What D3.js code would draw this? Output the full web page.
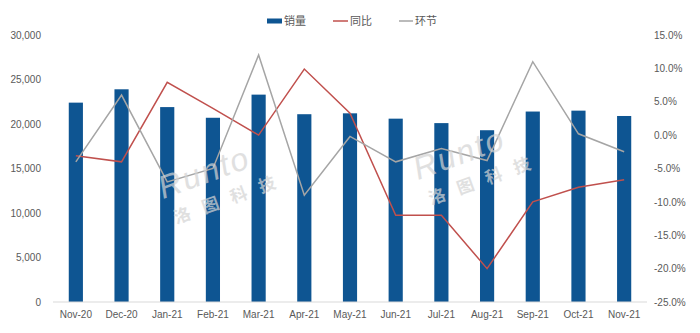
<!DOCTYPE html>
<html>
<head>
<meta charset="utf-8">
<script src="https://cdn.jsdelivr.net/npm/d3@7"></script>
<style>
  body { margin: 0; background: #fff; }
  svg text { font-family: "Liberation Sans", "Noto Sans CJK SC", sans-serif; }
</style>
</head>
<body>
<div id="chart"></div>
<script>
// data
const months = ["Nov-20", "Dec-20", "Jan-21", "Feb-21", "Mar-21", "Apr-21", "May-21",
                "Jun-21", "Jul-21", "Aug-21", "Sep-21", "Oct-21", "Nov-21"];
const sales = [22400, 23900, 21900, 20700, 23300, 21100, 21200, 20600, 20100, 19300, 21400, 21500, 20900];
const yoy = [-3.1, -4.0, 7.9, 4.0, 0.0, 9.9, 3.3, -12.0, -12.0, -20.0, -10.0, -7.8, -6.7];
const mom = [-4.0, 6.0, -7.0, -5.0, 12.0, -9.0, -0.2, -4.0, -2.0, -3.8, 11.0, 0.2, -2.5];
const leftTicks = [0, 5000, 10000, 15000, 20000, 25000, 30000];
const rightTicks = [-25, -20, -15, -10, -5, 0, 5, 10, 15];
const seriesNames = ["销量", "同比", "环节"];

const width = 700, height = 333;
const margin = {top: 35, right: 53, bottom: 31, left: 53};

const svg = d3.select("#chart")
  .append("svg")
    .attr("width", width)
    .attr("height", height);

const xScale = d3.scaleBand()
  .domain(months)
  .range([margin.left, width - margin.right])
  .padding(0);

const yLeft = d3.scaleLinear()
  .domain([0, 30000])
  .range([height - margin.bottom, margin.top]);

const yRight = d3.scaleLinear()
  .domain([-25, 15])
  .range([height - margin.bottom, margin.top]);

const textColor = "#595959";
const barColor = "#0E5592";
const redColor = "#C0504D";
const grayColor = "#A5A5A5";

// bars
const barW = xScale.bandwidth() * 0.31;
svg.append("g")
  .selectAll("rect")
  .data(sales)
  .join("rect")
    .attr("x", (d, i) => xScale(months[i]) + xScale.bandwidth() / 2 - barW / 2)
    .attr("y", d => yLeft(d))
    .attr("width", barW)
    .attr("height", d => yLeft(0) - yLeft(d))
    .attr("fill", barColor);

// lines
const cx = i => xScale(months[i]) + xScale.bandwidth() / 2;
const line = d3.line()
  .x((d, i) => cx(i))
  .y(d => yRight(d));

svg.append("path")
  .datum(yoy)
  .attr("d", line)
  .attr("fill", "none")
  .attr("stroke", redColor)
  .attr("stroke-width", 1.5);

svg.append("path")
  .datum(mom)
  .attr("d", line)
  .attr("fill", "none")
  .attr("stroke", grayColor)
  .attr("stroke-width", 1.5);

// baseline
svg.append("line")
  .attr("x1", margin.left)
  .attr("x2", width - margin.right)
  .attr("y1", yLeft(0))
  .attr("y2", yLeft(0))
  .attr("stroke", "#d9d9d9")
  .attr("stroke-width", 1);

// axes
const leftAxis = svg.append("g")
  .attr("transform", `translate(${margin.left},0)`)
  .call(d3.axisLeft(yLeft).tickValues(leftTicks).tickSize(0).tickPadding(12)
    .tickFormat(d3.format(",")));

const rightAxis = svg.append("g")
  .attr("transform", `translate(${width - margin.right},0)`)
  .call(d3.axisRight(yRight).tickValues(rightTicks).tickSize(0).tickPadding(7)
    .tickFormat(d => d.toFixed(1) + "%"));

const bottomAxis = svg.append("g")
  .attr("transform", `translate(0,${yLeft(0)})`)
  .call(d3.axisBottom(xScale).tickSize(0).tickPadding(9));

[leftAxis, rightAxis, bottomAxis].forEach(a => {
  a.select(".domain").remove();
  a.selectAll("text")
    .attr("fill", textColor)
    .attr("font-size", 10)
    .attr("font-family", "Liberation Sans, Noto Sans CJK SC, sans-serif");
});

// watermark, semi-transparent over the marks
function watermark(x, y) {
  const g = svg.append("g")
    .attr("transform", `translate(${x},${y}) rotate(-20)`)
    .attr("fill", "#d4d4d4")
    .attr("opacity", 0.7);
  g.append("text")
    .attr("font-size", 32)
    .attr("font-style", "italic")
    .attr("letter-spacing", 2)
    .text("Runto");
  g.append("text")
    .attr("x", 4)
    .attr("y", 28)
    .attr("font-size", 17)
    .attr("font-weight", "bold")
    .attr("letter-spacing", 13)
    .text("洛图科技");
}
watermark(163, 199);
watermark(418, 180);

// legend
const legend = svg.append("g").attr("font-size", 11).attr("fill", textColor);
const legendY = 21;
legend.append("rect")
  .attr("x", 267).attr("y", legendY - 2.5)
  .attr("width", 15).attr("height", 5)
  .attr("fill", barColor);
legend.append("text")
  .attr("x", 284).attr("y", legendY).attr("dy", "0.35em")
  .attr("fill", textColor)
  .text(seriesNames[0]);
legend.append("line")
  .attr("x1", 333).attr("x2", 348).attr("y1", legendY).attr("y2", legendY)
  .attr("stroke", redColor).attr("stroke-width", 1.5);
legend.append("text")
  .attr("x", 350).attr("y", legendY).attr("dy", "0.35em")
  .attr("fill", textColor)
  .text(seriesNames[1]);
legend.append("line")
  .attr("x1", 399).attr("x2", 413).attr("y1", legendY).attr("y2", legendY)
  .attr("stroke", grayColor).attr("stroke-width", 1.5);
legend.append("text")
  .attr("x", 415).attr("y", legendY).attr("dy", "0.35em")
  .attr("fill", textColor)
  .text(seriesNames[2]);
</script>
</body>
</html>
